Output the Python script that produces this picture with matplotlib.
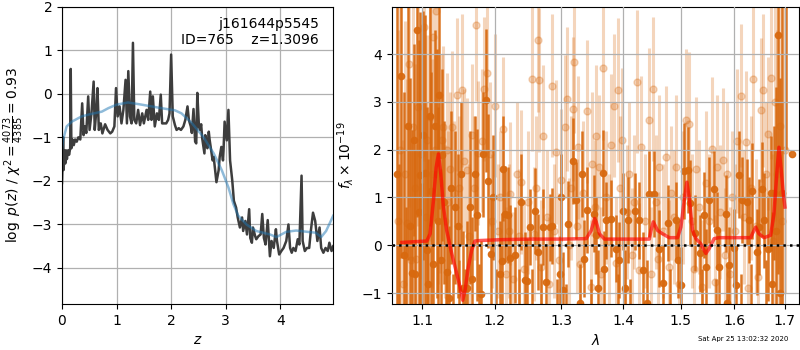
import numpy as np
import matplotlib
matplotlib.use("Agg")
import matplotlib.pyplot as plt
from matplotlib.ticker import NullLocator

# redshift probability from the template fit
pz_z = [
    0.000, 0.012, 0.020, 0.030, 0.045, 0.060, 0.075, 0.090, 0.110, 0.130,
    0.150, 0.160, 0.172, 0.190, 0.215, 0.240, 0.270, 0.300, 0.335, 0.370,
    0.395, 0.420, 0.445, 0.480, 0.505, 0.540, 0.580, 0.600, 0.630, 0.650,
    0.675, 0.710, 0.740, 0.790, 0.835, 0.885, 0.920, 0.960, 0.990, 1.020,
    1.055, 1.090, 1.125, 1.165, 1.190, 1.215, 1.245, 1.275, 1.300, 1.325,
    1.360, 1.395, 1.430, 1.470, 1.500, 1.550, 1.580, 1.617, 1.640, 1.665,
    1.700, 1.740, 1.775, 1.810, 1.835, 1.870, 1.910, 1.945, 1.970, 2.000,
    2.030, 2.070, 2.100, 2.140, 2.180, 2.225, 2.260, 2.300, 2.325, 2.360,
    2.380, 2.410, 2.440, 2.460, 2.480, 2.510, 2.530, 2.550, 2.570, 2.590,
    2.610, 2.625, 2.645, 2.665, 2.690, 2.705, 2.720, 2.740, 2.760, 2.780,
    2.800, 2.815, 2.830, 2.870, 2.890, 2.920, 2.950, 2.960,
    2.980, 3.020, 3.050, 3.080, 3.120, 3.150, 3.190, 3.220, 3.260, 3.300,
    3.320, 3.360, 3.390, 3.430, 3.450, 3.480, 3.500, 3.540, 3.560, 3.600,
    3.640, 3.670, 3.700, 3.730, 3.770, 3.810, 3.840, 3.880, 3.920, 3.940,
    3.980, 4.020, 4.060, 4.110, 4.150, 4.180, 4.210, 4.240, 4.280, 4.320,
    4.350, 4.390, 4.410, 4.450, 4.490, 4.530, 4.560, 4.600, 4.640, 4.680,
    4.720, 4.750, 4.790, 4.830, 4.870, 4.900, 4.940, 4.970,
]
pz_logp = [
    -2.05, -1.55, -1.00, -1.75, -1.30, -1.60, -1.30, -1.50, -1.30, -1.40,
    -1.25, 0.57, -1.25, -1.05, -1.18, -1.05, -1.10, -1.00, -1.05, -0.22,
    -0.95, -0.75, -0.90, -0.06, -0.83, -0.45, 0.28, -0.83, -0.37, 0.13,
    -0.83, -0.68, -0.91, -0.70, -0.83, -0.91, -0.87, -0.75, 0.13, -0.52,
    -0.29, -0.68, -0.37, 0.32, -0.68, 0.52, -0.52, -0.68, 1.17, -0.60,
    -0.68, -0.37, -0.72, -0.45, -0.68, -0.37, -0.60, 0.05, -0.60, -0.06,
    -0.75, -0.45, -0.60, -0.02, -0.68, -0.68, -0.68, -0.60, -0.45, 0.90,
    -0.52, -0.72, -0.83, -0.79, -0.83, -0.75, -0.60, -0.29, -0.60, -0.75,
    -0.90, -0.35, -1.10, -1.14, 0.02, -0.76, -0.83, -0.70, -1.03, -1.20,
    -1.37, -0.95, -1.14, -1.25, -0.87, -1.05, -1.18, -1.35, -1.53, -1.45,
    -1.68, -1.85, -2.03, -1.76, -1.45, -1.22, -1.53, -1.30,
    -0.64, -1.07, -0.37, -1.53, -1.99, -2.46, -2.61, -2.84, -3.07, -2.84,
    -3.15, -2.92, -3.23, -2.65, -3.31, -3.42, -3.07, -3.27, -3.34, -3.27,
    -3.23, -2.76, -3.31, -3.46, -2.90, -3.73, -3.38, -3.54, -3.11, -3.38,
    -3.69, -3.61, -3.54, -3.38, -3.00, -3.54, -3.65, -3.54, -3.61, -3.34,
    -3.46, -1.88, -3.38, -3.61, -3.54, -3.54, -3.15, -2.73, -2.92, -3.38,
    -3.07, -3.54, -3.65, -3.54, -3.61, -3.42, -3.61, -3.50,
]

# smooth prior curve
prior_z = [
    0.00, 0.02, 0.085, 0.18, 0.36, 0.48, 0.73, 0.85, 1.00, 1.21,
    1.46, 1.82, 2.07, 2.19, 2.37, 2.59, 2.78, 2.93, 3.05, 3.14,
    3.23, 3.38, 3.56, 3.81, 3.93, 4.11, 4.29, 4.50, 4.65, 4.75,
    4.84, 4.97,
]
prior_logp = [
    -1.25, -1.06, -0.75, -0.64, -0.52, -0.48, -0.41, -0.33, -0.25, -0.20,
    -0.25, -0.33, -0.38, -0.45, -0.66, -0.99, -1.37, -1.76, -2.15, -2.53,
    -2.80, -3.00, -3.15, -3.23, -3.29, -3.17, -3.14, -3.17, -3.19, -3.29,
    -3.15, -2.80,
]

# binned 1D spectrum (microns, 1e-19 flux units)
spec_wave = [
    1.0667, 1.0695, 1.0722, 1.0752, 1.0780, 1.0805, 1.0830, 1.0860,
    1.0882, 1.0904, 1.0934, 1.0952, 1.0969, 1.0992, 1.1013, 1.1035,
    1.1057, 1.1079, 1.1097, 1.1115, 1.1138, 1.1165, 1.1191, 1.1210,
    1.1226, 1.1244, 1.1262, 1.1287, 1.1310, 1.1334, 1.1358, 1.1383,
    1.1408, 1.1440, 1.1476, 1.1500, 1.1528, 1.1554, 1.1578, 1.1600,
    1.1640, 1.1679, 1.1716, 1.1740, 1.1770, 1.1801, 1.1835, 1.1872,
    1.1900, 1.1943, 1.1975, 1.2010, 1.2068, 1.2097, 1.2122, 1.2145,
    1.2184, 1.2218, 1.2291, 1.2355, 1.2385, 1.2444, 1.2479, 1.2514,
    1.2550, 1.2589, 1.2640, 1.2680, 1.2716, 1.2756, 1.2818, 1.2859,
    1.2935, 1.2972, 1.3000, 1.3024, 1.3075, 1.3102, 1.3181, 1.3223,
    1.3295, 1.3324, 1.3350, 1.3404, 1.3470, 1.3511, 1.3554, 1.3581,
    1.3663, 1.3690, 1.3717, 1.3800, 1.3883, 1.3910, 1.3938, 1.3994,
    1.4035, 1.4078, 1.4120, 1.4207, 1.4276, 1.4344, 1.4402, 1.4448,
    1.4535, 1.4622, 1.4681, 1.4769, 1.4810, 1.4918, 1.4960, 1.5007,
    1.5067, 1.5127, 1.5176, 1.5267, 1.5352, 1.5400, 1.5432, 1.5463,
    1.5525, 1.5618, 1.5650, 1.5680, 1.5712, 1.5838, 1.5870, 1.5901,
    1.5997, 1.6029, 1.6093, 1.6125, 1.6157, 1.6250, 1.6287, 1.6320,
    1.6353, 1.6438, 1.6484, 1.6536, 1.6583, 1.6630, 1.6669, 1.6716,
    1.6750, 1.6783, 1.6820, 1.6864, 1.6910, 1.6951, 1.7035, 1.7142,
]
spec_flux = [
    1.50, -1.50, 3.53, -0.20, -1.90, 2.50, 0.40, -0.58,
    2.20, -0.60, 4.50, 0.70, 1.48, -1.50, 2.30, 1.52,
    -0.10, -0.80, 2.70, 1.13, -0.40, 2.50, 1.50, 0.50,
    3.15, -0.30, 1.88, 0.90, -2.10, -0.56, -1.10, 1.20,
    -1.90, 0.80, 0.40, -1.70, 1.50, -0.90, -2.10, -0.90,
    0.80, -0.70, 1.50, 0.64, -1.60, -1.01, 1.90, 3.03,
    1.34, -0.19, 1.00, -1.80, -0.60, -0.33, 1.60, 0.66,
    0.64, -0.26, -0.20, -1.50, 0.90, -0.73, -0.75, 0.38,
    -1.40, 0.72, -0.14, -1.30, 0.38, -0.77, 0.38, 0.40,
    -1.50, -0.60, 1.00, -0.94, -1.60, 0.45, 1.77, 0.94,
    -1.20, 1.50, -0.28, 0.74, -1.50, 0.66, 0.21, -0.90,
    1.52, -0.50, 0.52, 0.56, -0.07, -1.40, -0.31, 0.71,
    -0.90, 0.52, -1.50, 0.71, 0.52, -0.52, -1.21, 1.08,
    1.08, -0.07, -0.79, 0.47, -1.30, 0.52, -0.30, -0.83,
    1.56, 1.58, 0.88, 0.26, -0.17, -1.40, 0.63, -0.45,
    0.95, 1.18, -1.60, 0.31, -0.45, 0.66, -1.20, -0.42,
    -0.05, -0.83, 1.48, -1.50, 0.94, 0.90, 0.52, -1.30,
    1.13, -0.14, 0.38, 1.17, 0.52, -1.40, -0.07, 1.09,
    -0.80, 1.09, 0.30, 4.40, -1.00, 1.09, 5.80, 1.90,
]
spec_err = [
    4.0, 3.2, 3.8, 3.4, 2.7, 2.8, 3.1, 3.0,
    2.0, 2.6, 3.9, 3.6, 3.4, 2.8, 2.6, 3.3,
    3.0, 2.6, 2.3, 2.5, 2.4, 2.0, 2.6, 2.4,
    2.4, 1.9, 1.8, 1.7, 1.6, 1.4, 1.5, 1.6,
    1.3, 1.6, 1.5, 1.4, 1.5, 1.2, 1.6, 1.4,
    1.6, 1.3, 1.2, 1.8, 1.2, 1.1, 1.3, 1.5,
    1.4, 1.2, 1.3, 1.3, 1.1, 1.0, 1.1, 1.0,
    1.0, 1.1, 1.0, 1.0, 1.0, 1.0, 0.9, 0.8,
    0.9, 0.9, 0.8, 0.9, 0.8, 0.8, 0.7, 0.8,
    0.8, 0.8, 0.9, 0.8, 0.8, 0.9, 0.9, 0.8,
    0.8, 0.9, 0.8, 0.9, 0.8, 0.8, 0.8, 0.8,
    0.9, 0.8, 0.8, 0.8, 0.7, 0.8, 0.8, 0.8,
    0.8, 0.9, 0.8, 0.8, 0.8, 0.8, 0.9, 0.9,
    0.9, 0.8, 0.8, 0.8, 0.8, 0.8, 0.8, 0.8,
    1.0, 0.9, 0.9, 0.8, 0.8, 0.9, 0.9, 0.8,
    0.9, 0.8, 0.9, 0.8, 0.8, 0.8, 0.8, 0.8,
    0.8, 0.8, 0.9, 0.9, 0.9, 0.9, 0.9, 0.9,
    1.0, 0.9, 1.0, 1.0, 1.0, 1.1, 1.1, 1.2,
    1.5, 1.4, 3.0, 5.0, 4.5, 5.0, 3.8, 0.0,
]

# unbinned spectrum pixels
pix_wave = [
    1.0680, 1.0710, 1.0740, 1.0765, 1.0795, 1.0820, 1.0845, 1.0873,
    1.0895, 1.0920, 1.0947, 1.0985, 1.1022, 1.1045, 1.1065, 1.1101,
    1.1125, 1.1146, 1.1170, 1.1182, 1.1205, 1.1235, 1.1255, 1.1280,
    1.1300, 1.1325, 1.1347, 1.1370, 1.1393, 1.1430, 1.1462, 1.1490,
    1.1531, 1.1563, 1.1600, 1.1630, 1.1670, 1.1700, 1.1730, 1.1764,
    1.1810, 1.1844, 1.1882, 1.1929, 1.1960, 1.2002, 1.2040, 1.2080,
    1.2121, 1.2160, 1.2200, 1.2218, 1.2270, 1.2316, 1.2350, 1.2389,
    1.2430, 1.2489, 1.2540, 1.2575, 1.2610, 1.2640, 1.2660, 1.2690,
    1.2716, 1.2770, 1.2800, 1.2859, 1.2880, 1.2920, 1.2960, 1.2998,
    1.3050, 1.3087, 1.3120, 1.3150, 1.3181, 1.3197, 1.3240, 1.3260,
    1.3300, 1.3340, 1.3409, 1.3468, 1.3490, 1.3530, 1.3554, 1.3608,
    1.3640, 1.3663, 1.3720, 1.3760, 1.3800, 1.3855, 1.3880, 1.3910,
    1.3950, 1.3988, 1.4030, 1.4060, 1.4106, 1.4150, 1.4190, 1.4229,
    1.4270, 1.4304, 1.4370, 1.4437, 1.4470, 1.4517, 1.4560, 1.4600,
    1.4622, 1.4680, 1.4739, 1.4790, 1.4829, 1.4880, 1.4918, 1.4970,
    1.5040, 1.5100, 1.5145, 1.5200, 1.5240, 1.5279, 1.5330, 1.5390,
    1.5463, 1.5520, 1.5587, 1.5630, 1.5668, 1.5730, 1.5787, 1.5830,
    1.5869, 1.5920, 1.5965, 1.6010, 1.6061, 1.6126, 1.6180, 1.6235,
    1.6270, 1.6330, 1.6366, 1.6420, 1.6470, 1.6516, 1.6569, 1.6620,
    1.6669, 1.6716, 1.6760, 1.6800, 1.6840, 1.6900, 1.6950, 1.7000,
]
pix_flux = [
    0.50, 2.00, -0.80, 1.50, 0.47, 3.80, -0.30, 2.47,
    1.20, -0.28, 2.90, 1.90, 4.57, 0.60, 2.20, 2.68,
    1.50, 4.36, 2.00, 4.90, 1.00, 1.32, 2.20, 2.47,
    0.50, 2.00, 0.90, 1.60, 2.47, 1.10, 3.15, 1.20,
    3.24, 1.77, 1.58, 0.20, 2.30, 1.20, 4.61, 1.93,
    2.19, 3.27, 3.60, 1.91, 0.50, 2.92, 0.30, 1.00,
    2.44, -0.60, 0.30, 1.08, -0.70, 1.50, 0.20, 1.32,
    -0.50, 0.90, 3.48, 0.24, 1.20, 4.29, 3.46, -0.45,
    2.28, 0.60, -0.80, 3.34, 0.30, 1.95, -0.30, 1.36,
    2.48, 3.06, 0.00, 1.20, 2.85, 3.84, 0.40, 2.05,
    -0.40, 1.10, 2.80, -0.88, 1.70, 0.80, 2.28, 1.64,
    -0.60, 3.71, 1.00, 0.10, 2.09, 2.92, -0.38, 3.25,
    1.20, 2.21, -0.94, 0.70, 1.50, -0.20, 0.90, 3.42,
    -0.52, 2.05, 0.50, 2.62, -0.60, 3.27, 0.90, -0.29,
    1.64, 0.30, 1.84, -0.45, 1.09, 0.60, 1.64, -0.80,
    1.00, 2.61, 2.54, 0.50, -0.50, 1.60, 0.80, -0.87,
    1.30, 0.50, 2.02, -0.77, 1.64, 0.70, 1.79, -0.20,
    1.50, -0.60, 1.00, 0.30, 2.18, 3.13, 0.60, 2.15,
    -0.90, 1.20, 3.48, 0.40, -0.66, 2.83, 3.24, 1.50,
    2.33, 3.50, 0.10, 3.00, 1.50, 2.50, 0.50, 2.00,
]
pix_err = [
    4.0, 3.5, 3.0, 3.2, 3.0, 3.0, 2.5, 2.8,
    2.6, 2.4, 2.5, 2.6, 2.8, 2.4, 2.2, 2.6,
    2.4, 2.5, 2.0, 2.3, 1.8, 1.9, 1.8, 1.7,
    1.6, 1.6, 1.5, 1.6, 1.6, 1.5, 1.6, 1.5,
    1.6, 1.5, 1.5, 1.5, 1.5, 1.5, 1.6, 1.5,
    1.5, 1.5, 1.6, 1.5, 1.4, 1.5, 1.4, 1.4,
    1.5, 1.4, 1.4, 1.5, 1.4, 1.5, 1.4, 1.5,
    1.4, 1.5, 1.5, 1.4, 1.5, 1.5, 1.5, 1.4,
    1.5, 1.4, 1.4, 1.5, 1.4, 1.5, 1.4, 1.5,
    1.5, 1.5, 1.4, 1.5, 1.5, 1.5, 1.4, 1.5,
    1.4, 1.5, 1.5, 1.4, 1.5, 1.4, 1.5, 1.5,
    1.4, 1.5, 1.4, 1.4, 1.5, 1.5, 1.4, 1.5,
    1.5, 1.5, 1.4, 1.4, 1.5, 1.4, 1.4, 1.5,
    1.4, 1.5, 1.4, 1.5, 1.4, 1.5, 1.4, 1.4,
    1.5, 1.4, 1.5, 1.4, 1.4, 1.4, 1.5, 1.4,
    1.4, 1.5, 1.5, 1.4, 1.4, 1.5, 1.4, 1.4,
    1.5, 1.4, 1.5, 1.4, 1.5, 1.4, 1.5, 1.4,
    1.5, 1.4, 1.4, 1.4, 1.5, 1.5, 1.4, 1.5,
    1.4, 1.5, 1.5, 1.4, 1.4, 1.5, 1.6, 1.5,
    1.6, 1.7, 1.8, 2.5, 3.0, 3.0, 2.5, 3.0,
]

# best-fit template model
model_wave = [
    1.0731, 1.1057, 1.1101, 1.1146, 1.1182, 1.1213, 1.1244, 1.1280,
    1.1325, 1.1393, 1.1462, 1.1508, 1.1545, 1.1577, 1.1623, 1.1670,
    1.1716, 1.1787, 1.2121, 1.2514, 1.3024, 1.3393, 1.3473, 1.3527,
    1.3554, 1.3608, 1.3690, 1.4106, 1.4448, 1.4477, 1.4517, 1.4593,
    1.4681, 1.4799, 1.4947, 1.5007, 1.5067, 1.5115, 1.5157, 1.5218,
    1.5279, 1.5371, 1.5463, 1.5525, 1.5618, 1.5712, 1.6320, 1.6353,
    1.6418, 1.6484, 1.6583, 1.6716, 1.6783, 1.6850, 1.6884, 1.6931,
    1.6972, 1.7006,
]
model_flux = [
    0.06, 0.09, 0.24, 0.94, 1.63, 1.91, 1.50, 0.80,
    0.31, -0.17, -0.59, -0.87, -1.15, -0.94, -0.45, -0.10,
    0.09, 0.10, 0.12, 0.13, 0.13, 0.14, 0.31, 0.56,
    0.49, 0.24, 0.13, 0.13, 0.13, 0.31, 0.49, 0.31,
    0.24, 0.16, 0.16, 0.38, 0.94, 1.32, 1.00, 0.31,
    0.14, 0.03, -0.17, -0.07, 0.14, 0.16, 0.16, 0.24,
    0.38, 0.24, 0.16, 0.21, 0.66, 1.63, 2.05, 1.57,
    1.08, 0.80,
]

wave_ticks = [1.1, 1.2, 1.3, 1.4, 1.5, 1.6, 1.7]

ORANGE = "#d8690f"


def plot_pz(ax):
    ax.plot(pz_z, pz_logp, color="#3d3d3d", lw=1.8)
    ax.plot(prior_z, prior_logp, color="tab:blue", lw=1.8, alpha=0.5)
    ax.set_xlim(0, 4.97)
    ax.set_ylim(-4.83, 2.0)
    ax.set_xticks([0, 1, 2, 3, 4])
    ax.set_yticks([-4, -3, -2, -1, 0, 1, 2])
    ax.grid(color="#b0b0b0", lw=0.9)
    ax.set_xlabel("$z$")
    ax.set_ylabel(r"$\log\ p(z)$ / $\chi^2=\frac{4073}{4385}=0.93$")
    ax.text(0.948, 0.965, "j161644p5545\nID=765    z=1.3096",
            transform=ax.transAxes, ha="right", va="top", fontsize=10)


def plot_spectrum(ax):
    ax.errorbar(pix_wave, pix_flux, yerr=pix_err, fmt="o", color=ORANGE,
                ms=5, elinewidth=2.2, capsize=0, alpha=0.28, zorder=1)
    ax.errorbar(spec_wave, spec_flux, yerr=spec_err, fmt="o", color=ORANGE,
                ms=4.5, elinewidth=1.8, capsize=0, alpha=0.92, zorder=2)
    ax.plot(model_wave, model_flux, color="red", lw=2.5, alpha=0.65, zorder=3)
    ax.axhline(0, color="k", ls=":", lw=1.8, zorder=4)

    ax.set_xscale("log")
    ax.set_xlim(1.06, 1.73)
    ax.set_xticks(wave_ticks)
    ax.set_xticklabels([f"{t:.1f}" for t in wave_ticks])
    ax.xaxis.set_minor_locator(NullLocator())
    ax.set_ylim(-1.23, 4.99)
    ax.set_yticks([-1, 0, 1, 2, 3, 4])
    ax.set_axisbelow(False)
    ax.grid(color="#b0b0b0", lw=0.9)
    ax.set_xlabel(r"$\lambda$")
    ax.set_ylabel(r"$f_\lambda\times10^{-19}$")


def main():
    fig = plt.figure(figsize=(8, 3.5), dpi=100)
    ax_pz = fig.add_axes([0.0775, 0.131, 0.339, 0.850])
    ax_sp = fig.add_axes([0.4896, 0.131, 0.5094, 0.850])

    plot_pz(ax_pz)
    plot_spectrum(ax_sp)

    fig.text(0.985, 0.022, "Sat Apr 25 13:02:32 2020", ha="right",
             va="bottom", fontsize=5)
    fig.savefig("out.png", dpi=100)


if __name__ == "__main__":
    main()
